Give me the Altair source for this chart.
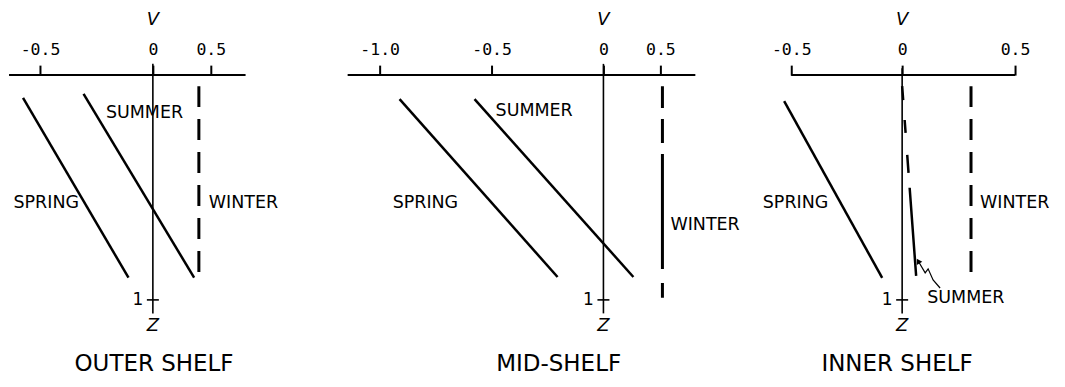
import altair as alt
import pandas as pd

# ---------------- data ----------------
PANEL_TITLES = ["OUTER SHELF", "MID-SHELF", "INNER SHELF"]
TICK_VALUES = [[-0.5, 0.0, 0.5], [-1.0, -0.5, 0.0, 0.5], [-0.5, 0.0, 0.5]]
# The printed V axes are piecewise: the positive half is drawn at a different length
SCALE_ANCHORS = [[-0.5, 0.0, 0.5], [-1.0, 0.0, 0.5], [-0.5, 0.0, 0.5]]
AXIS_EXTENT = [[-0.637, 0.80], [-1.143, 0.807], [-0.5, 0.5]]

SPRING_V = [[-0.575, -0.108], [-0.911, -0.205], [-0.532, -0.090]]
SPRING_Z = [[0.101, 0.901], [0.107, 0.898], [0.116, 0.902]]
SUMMER_V = [[-0.307, 0.356], [-0.576, 0.263], [0.0, 0.062]]
SUMMER_Z = [[0.083, 0.901], [0.107, 0.898], [0.049, 0.893]]
WINTER_V = [[0.397, 0.397], [0.518, 0.518], [0.305, 0.305]]
WINTER_Z = [[0.049, 0.907], [0.049, 0.991], [0.049, 0.893]]

LABEL_TEXT = [["SUMMER", "SPRING", "WINTER"],
              ["SUMMER", "SPRING", "WINTER"],
              ["SUMMER", "SPRING", "WINTER"]]
LABEL_V = [[-0.208, -0.327, 0.483], [-0.482, -0.942, 0.588], [0.111, -0.333, 0.345]]
LABEL_Z = [[0.169, 0.569, 0.569], [0.160, 0.569, 0.667], [0.991, 0.569, 0.569]]
TITLE_V = [0.01, -0.20, -0.023]
TITLE_Z = 1.284

ARROW_V = [0.071, 0.102, 0.115, 0.137, 0.168]
ARROW_Z = [0.827, 0.880, 0.862, 0.911, 0.947]

Z_TICK = [1.0]
Z_TICK_LABEL = ["1"]
Z_NAME = "Z"
V_NAME = "V"
Z_NAME_POS = 1.116
V_NAME_POS = -0.247
ZERO_LINE = [[-0.05, 1.06], [-0.05, 1.06], [-0.03, 1.06]]

# ---------------- style ----------------
PANEL_W = [288, 450, 311]
RANGES_PX = [[31, 144, 202], [83, 307, 364], [45, 156, 269]]
PLOT_H = 225
LABEL_ALIGN = [["left", "right", "left"], ["left", "left", "left"], ["left", "right", "left"]]
WINTER_DASH = [[21, 12], [22, 11, 24, 11, 115, 14, 20, 100], [21, 12]]
SUMMER_DASH = [None, None, [14, 20, 13, 22, 18, 15, 300]]
SANS = "DejaVu Sans"
MONO = "DejaVu Sans Mono"
INK = "black"

LABEL_EXPR = ("datum.value == 0 ? '0' : (datum.value < 0 ? '-' + format(-datum.value, '.1f') + '\u00a0'"
              " : format(datum.value, '.1f'))")


def panel(i):
    x_scale = alt.Scale(domain=SCALE_ANCHORS[i], range=RANGES_PX[i], nice=False, zero=False)
    x_axis = alt.Axis(orient="top", values=TICK_VALUES[i], labelExpr=LABEL_EXPR, domain=False,
                      grid=False, ticks=True, tickSize=10, tickWidth=2, tickColor=INK,
                      labelFont=MONO, labelFontSize=16.5, labelColor=INK, labelPadding=8,
                      labelFlush=False, labelOverlap=False, title=None)
    y_scale = alt.Scale(domain=[0, 1], reverse=True, nice=False, zero=False)

    def X(field="v"):
        return alt.X(f"{field}:Q", scale=x_scale, axis=x_axis)

    def Y(field="z"):
        return alt.Y(f"{field}:Q", scale=y_scale, axis=None)

    layers = []
    # horizontal V axis line
    ax = pd.DataFrame({"v": [AXIS_EXTENT[i][0]], "v2": [AXIS_EXTENT[i][1]], "z": [0.0]})
    layers.append(alt.Chart(ax).mark_rule(color=INK, strokeWidth=2).encode(
        x=X(), x2="v2:Q", y=Y()))
    # vertical zero line (z axis)
    zl = pd.DataFrame({"v": [0.0], "z": [ZERO_LINE[i][0]], "z2": [ZERO_LINE[i][1]]})
    layers.append(alt.Chart(zl).mark_rule(color=INK, strokeWidth=1.6).encode(
        x=X(), y=Y(), y2="z2:Q"))
    # z = 1 tick and its label
    zt = pd.DataFrame({"v": [0.0] * len(Z_TICK), "z": Z_TICK, "t": Z_TICK_LABEL})
    layers.append(alt.Chart(zt).mark_tick(orient="horizontal", size=12, thickness=1.6,
                                          color=INK, opacity=1).encode(x=X(), y=Y()))
    layers.append(alt.Chart(zt).mark_text(font=SANS, fontSize=17, color=INK, align="center",
                                          baseline="middle", dx=-15).encode(
        x=X(), y=Y(), text="t:N"))
    # axis names
    nm = pd.DataFrame({"v": [0.0, 0.0], "z": [V_NAME_POS, Z_NAME_POS], "t": [V_NAME, Z_NAME]})
    layers.append(alt.Chart(nm).mark_text(font=SANS, fontSize=18, fontStyle="italic", color=INK,
                                          align="center", baseline="middle").encode(
        x=X(), y=Y(), text="t:N"))
    # profiles
    sp = pd.DataFrame({"v": SPRING_V[i], "z": SPRING_Z[i]})
    layers.append(alt.Chart(sp).mark_line(color=INK, strokeWidth=2.5).encode(x=X(), y=Y()))
    su = pd.DataFrame({"v": SUMMER_V[i], "z": SUMMER_Z[i]})
    if SUMMER_DASH[i] is not None:
        su_mark = alt.Chart(su).mark_line(color=INK, strokeWidth=2.5, strokeDash=SUMMER_DASH[i])
    else:
        su_mark = alt.Chart(su).mark_line(color=INK, strokeWidth=2.5)
    layers.append(su_mark.encode(x=X(), y=Y()))
    wi = pd.DataFrame({"v": WINTER_V[i], "z": WINTER_Z[i]})
    layers.append(alt.Chart(wi).mark_line(color=INK, strokeWidth=3, strokeDash=WINTER_DASH[i])
                  .encode(x=X(), y=Y()))
    # season labels
    for t, v, z, a in zip(LABEL_TEXT[i], LABEL_V[i], LABEL_Z[i], LABEL_ALIGN[i]):
        lb = pd.DataFrame({"v": [v], "z": [z], "t": [t]})
        layers.append(alt.Chart(lb).mark_text(font=SANS, fontSize=17.5, color=INK, align=a,
                                              baseline="middle").encode(
            x=X(), y=Y(), text="t:N"))
    # arrow (inner shelf summer)
    if i == 2:
        ar = pd.DataFrame({"v": ARROW_V, "z": ARROW_Z, "k": list(range(len(ARROW_V)))})
        layers.append(alt.Chart(ar).mark_line(color=INK, strokeWidth=1.2).encode(
            x=X(), y=Y(), order="k:Q"))
        layers.append(alt.Chart(ar.iloc[[0]]).mark_point(shape="triangle-up", filled=True,
                                                         size=40, angle=330, color=INK,
                                                         opacity=1).encode(x=X(), y=Y()))
    # panel title
    tt = pd.DataFrame({"v": [TITLE_V[i]], "z": [TITLE_Z], "t": [PANEL_TITLES[i]]})
    layers.append(alt.Chart(tt).mark_text(font=SANS, fontSize=23, color=INK, align="center",
                                          baseline="middle").encode(
        x=X(), y=Y(), text="t:N"))
    return alt.layer(*layers).properties(width=PANEL_W[i], height=PLOT_H)


chart = alt.hconcat(panel(0), panel(1), panel(2), spacing=0, bounds="flush").properties(
    padding={"left": 0, "top": 2, "right": 0, "bottom": 0},
    background="white",
).configure_view(strokeWidth=0)

chart.save("out.html", embed_options={"renderer": "svg", "actions": False})
